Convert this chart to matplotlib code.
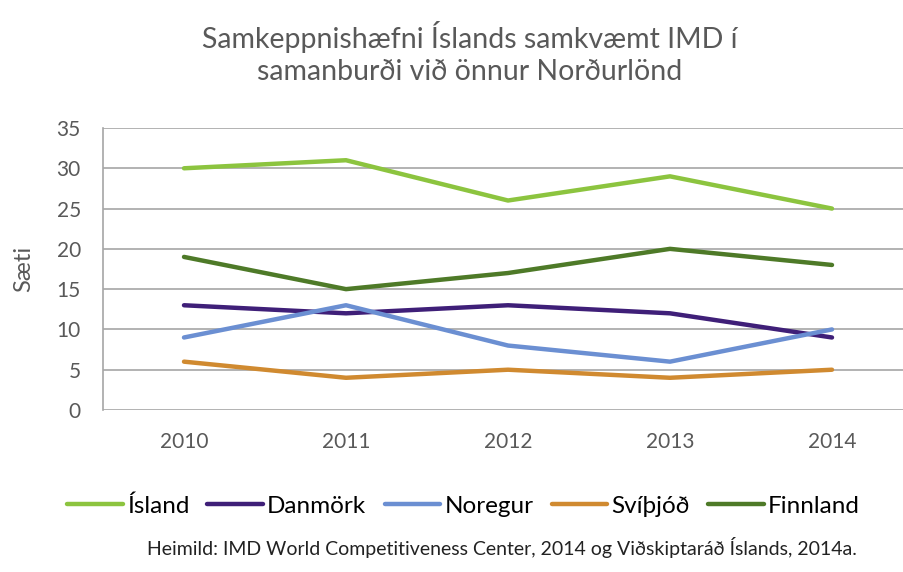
import matplotlib
matplotlib.use("Agg")
import matplotlib.pyplot as plt

years = ["2010", "2011", "2012", "2013", "2014"]
island = [30, 31, 26, 29, 25]
danmork = [13, 12, 13, 12, 9]
noregur = [9, 13, 8, 6, 10]
svithjod = [6, 4, 5, 4, 5]
finnland = [19, 15, 17, 20, 18]

series = [
    ("Ísland", island, "#8cc43f"),
    ("Danmörk", danmork, "#3f1f78"),
    ("Noregur", noregur, "#6b8fd2"),
    ("Svíþjóð", svithjod, "#d08a30"),
    ("Finnland", finnland, "#4e7a28"),
]

plt.rcParams['font.family'] = ['Lato', 'DejaVu Sans']
txt = "#595959"

fig = plt.figure(figsize=(9.04, 5.72), dpi=100)
ax = fig.add_axes([103 / 904, 1 - 410 / 572, 810 / 904, 282 / 572])

x = range(len(years))
for name, vals, col in series:
    ax.plot(x, vals, color=col, lw=3.2, label=name, solid_capstyle="round")

ax.set_xlim(-0.5, 4.5)
ax.set_ylim(0, 35)
ax.set_yticks(range(0, 36, 5))
ax.set_xticks(list(x))
ax.set_xticklabels(years)
ax.grid(axis="y", color="#a6a6a6", lw=1.2)
ax.set_axisbelow(True)
for s in ["top", "right", "bottom"]:
    ax.spines[s].set_visible(False)
ax.spines["left"].set_color("#a6a6a6")
ax.spines["left"].set_linewidth(1.2)
ax.tick_params(length=0, labelsize=15, labelcolor=txt)
ax.tick_params(axis="y", pad=16)
ax.tick_params(axis="x", pad=16)
ax.set_ylabel("Sæti", fontsize=17, color=txt, labelpad=16)

fig.text(0.52, 0.907, "Samkeppnishæfni Íslands samkvæmt IMD í\nsamanburði við önnur Norðurlönd",
         ha="center", va="center", fontsize=20.5, color=txt, linespacing=1.3)

fig.legend(loc="center", bbox_to_anchor=(0.5125, 0.115), ncol=5, frameon=False,
           fontsize=17.5, handlelength=2.3, handletextpad=0.16, columnspacing=0.75)

fig.text(0.555, 0.042, "Heimild: IMD World Competitiveness Center, 2014 og Viðskiptaráð Íslands, 2014a.",
         ha="center", va="center", fontsize=14, color="#222222")

fig.savefig("out.png", dpi=100)
